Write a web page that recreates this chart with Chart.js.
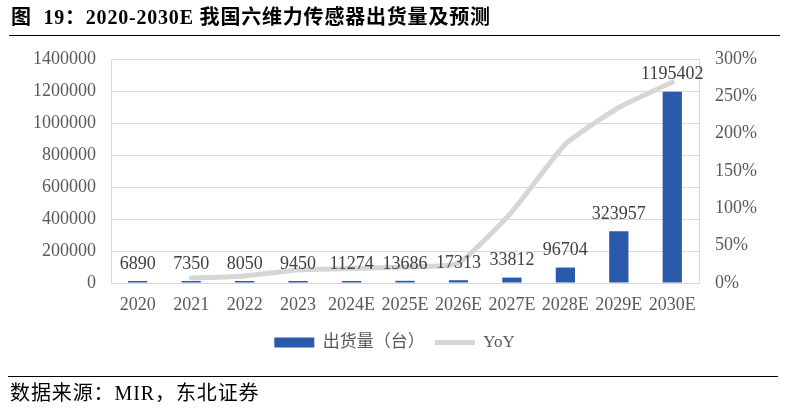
<!DOCTYPE html>
<html>
<head>
<meta charset="utf-8">
<script src="https://cdn.jsdelivr.net/npm/chart.js@4/dist/chart.umd.min.js"></script>
<style>
  html, body { margin: 0; padding: 0; background: #fff; }
  body { width: 789px; height: 408px; position: relative; overflow: hidden; font-family: "Liberation Serif", "Noto Sans CJK SC", serif; }
  #title { position: absolute; left: 11px; top: 4px; font-size: 20px; line-height: 26px; font-weight: bold; color: #000; white-space: nowrap; letter-spacing: 0.8px; }
  #rule1 { position: absolute; left: 9px; width: 771px; top: 35px; height: 0; border-top: 1.5px solid #000; }
  #rule2 { position: absolute; left: 8px; width: 770px; top: 376px; height: 0; border-top: 1.5px solid #000; }
  #source { position: absolute; left: 10px; top: 380px; font-size: 20px; line-height: 26px; color: #000; white-space: nowrap; letter-spacing: 0.9px; }
  #wrap { position: absolute; left: 0; top: 0; width: 789px; height: 408px; }
</style>
</head>
<body>
<div id="wrap"><canvas id="c" width="789" height="408"></canvas></div>
<div id="title">图&nbsp; 19：2020-2030E 我国六维力传感器出货量及预测</div>
<div id="rule1"></div>
<div id="rule2"></div>
<div id="source">数据来源：MIR，东北证券</div>
<script>
const categories = ['2020', '2021', '2022', '2023', '2024E', '2025E', '2026E', '2027E', '2028E', '2029E', '2030E'];
const shipments = [6890, 7350, 8050, 9450, 11274, 13686, 17313, 33812, 96704, 323957, 1195402];
const yoy = [null, 0.067, 0.095, 0.174, 0.193, 0.214, 0.265, 0.953, 1.860, 2.350, 2.690];
const leftTicks = [0, 200000, 400000, 600000, 800000, 1000000, 1200000, 1400000];
const rightTicks = [0, 0.5, 1, 1.5, 2, 2.5, 3];

const FONT = '"Liberation Serif", "Noto Sans CJK SC", serif';
const GRID = '#D9D9D9';
const BAR = '#2A5AAB';
const LINE = '#D6D6D6';

const barLabels = {
  id: 'barLabels',
  afterDatasetsDraw(chart) {
    const meta = chart.getDatasetMeta(0);
    const ctx = chart.ctx;
    ctx.save();
    ctx.font = '18px ' + FONT;
    ctx.fillStyle = '#404040';
    ctx.textAlign = 'center';
    ctx.textBaseline = 'bottom';
    meta.data.forEach((bar, i) => {
      ctx.fillText(String(shipments[i]), bar.x, bar.y - 8);
    });
    ctx.restore();
  }
};

new Chart(document.getElementById('c'), {
  data: {
    labels: categories,
    datasets: [
      {
        type: 'bar',
        label: '出货量（台）',
        data: shipments,
        backgroundColor: BAR,
        yAxisID: 'y',
        barPercentage: 0.36,
        categoryPercentage: 1.0,
        minBarLength: 2,
        order: 2
      },
      {
        type: 'line',
        label: 'YoY',
        data: yoy,
        borderColor: LINE,
        backgroundColor: LINE,
        borderWidth: 5,
        pointRadius: 0,
        tension: 0.15,
        borderCapStyle: 'round',
        yAxisID: 'y1',
        order: 1
      }
    ]
  },
  options: {
    responsive: false,
    animation: false,
    devicePixelRatio: 1,
    layout: { padding: { top: 59, bottom: 47, left: 0, right: 0 } },
    plugins: {
      tooltip: { enabled: false },
      legend: {
        position: 'bottom',
        labels: {
          font: { family: FONT, size: 17 },
          color: '#595959',
          usePointStyle: true,
          pointStyleWidth: 40,
          boxWidth: 40,
          boxHeight: 10,
          padding: 10,
          generateLabels(chart) {
            return [
              { text: '出货量（台）', fillStyle: BAR, strokeStyle: BAR, lineWidth: 0, pointStyle: 'rect', datasetIndex: 0, fontColor: '#595959' },
              { text: 'YoY', fillStyle: LINE, strokeStyle: LINE, lineWidth: 5, pointStyle: 'line', datasetIndex: 1, fontColor: '#595959' }
            ];
          }
        }
      }
    },
    scales: {
      x: {
        grid: { display: false, drawTicks: false },
        border: { display: true, color: GRID },
        ticks: { font: { family: FONT, size: 18 }, color: '#595959', padding: 11, maxRotation: 0, autoSkip: false },
        afterFit(s) { s.height = 41; }
      },
      y: {
        position: 'left',
        min: 0, max: 1400000,
        afterBuildTicks(s) { s.ticks = leftTicks.map(v => ({ value: v })); },
        grid: { color: GRID, drawTicks: false },
        border: { display: true, color: GRID },
        ticks: { font: { family: FONT, size: 18 }, color: '#595959', padding: 15, callback: v => String(v) },
        afterFit(s) { s.width = 111; }
      },
      y1: {
        position: 'right',
        min: 0, max: 3,
        afterBuildTicks(s) { s.ticks = rightTicks.map(v => ({ value: v })); },
        grid: { display: false, drawTicks: false },
        border: { display: true, color: GRID },
        ticks: { font: { family: FONT, size: 18 }, color: '#595959', padding: 16, callback: v => Math.round(v * 100) + '%' },
        afterFit(s) { s.width = 90; }
      }
    }
  },
  plugins: [barLabels]
});
</script>
</body>
</html>
